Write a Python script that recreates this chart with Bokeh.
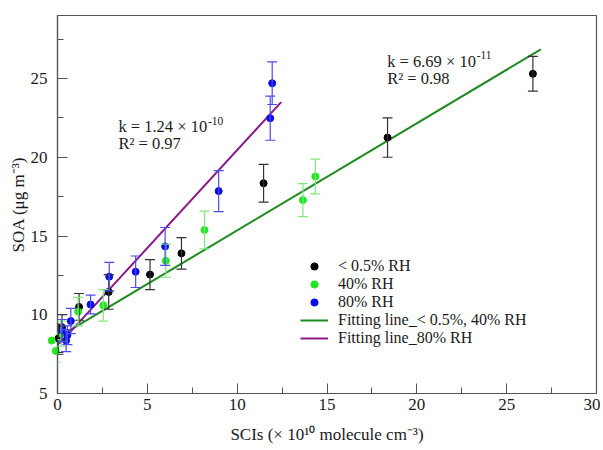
from bokeh.plotting import figure
from bokeh.models import (ColumnDataSource, Whisker, TeeHead, Legend, LegendItem,
                          SingleIntervalTicker, Range1d)
from bokeh.core.properties import value
from bokeh.embed import file_html
from bokeh.resources import INLINE

# ---- data ----
black_x = [0.05, 0.25, 1.2, 2.85, 5.15, 6.9, 11.47, 18.37, 26.46]
black_y = [8.5, 9.2, 10.5, 11.45, 12.55, 13.9, 18.35, 21.25, 25.3]
black_err = [0.9, 0.8, 0.85, 1.1, 0.95, 1.0, 1.2, 1.25, 1.1]

green_x = [-0.6, -0.32, -0.1, 0.2, 1.15, 2.55, 6.03, 8.18, 13.66, 14.35]
green_y = [8.0, 8.36, 7.7, 8.8, 10.2, 10.6, 13.43, 15.38, 17.28, 18.78]
green_err = [0.8, 0.9, 0.7, 0.8, 0.9, 1.0, 1.05, 1.2, 1.05, 1.1]

blue_x = [0.24, 0.48, 0.55, 0.74, 1.84, 2.88, 4.35, 5.99, 8.97, 11.84, 11.95]
blue_y = [9.0, 8.36, 8.7, 9.6, 10.65, 12.42, 12.73, 14.34, 17.85, 22.48, 24.7]
blue_err = [0.7, 0.7, 0.6, 0.8, 0.6, 0.9, 1.0, 1.2, 1.3, 1.4, 1.35]

fit_dry_x = [0.0, 26.9]
fit_dry_y = [8.55, 26.85]
fit_wet_x = [0.1, 12.45]
fit_wet_y = [8.15, 23.5]

series_labels = ["< 0.5% RH", "40% RH", "80% RH",
                 "Fitting line_< 0.5%, 40% RH", "Fitting line_80% RH"]

k_texts = ["k = 1.24 × 10", "k = 6.69 × 10"]
k_exps = ["-10", "-11"]
r2_texts = ["R² = 0.97", "R² = 0.98"]

FONT = "Liberation Serif"

p = figure(width=600, height=450, output_backend="svg", toolbar_location=None,
           x_range=Range1d(0, 30), y_range=Range1d(5, 29),
           min_border_left=57, min_border_right=4, min_border_top=15,
           min_border_bottom=57, background_fill_color="white",
           border_fill_color="white")
p.grid.visible = False
p.outline_line_color = "#555555"
p.outline_line_width = 1.2

for ax in (p.xaxis[0], p.yaxis[0]):
    ax.ticker = SingleIntervalTicker(interval=5, num_minor_ticks=2)
    ax.major_tick_in = 10
    ax.major_tick_out = 0
    ax.minor_tick_in = 6
    ax.minor_tick_out = 0
    ax.axis_line_color = "#555555"
    ax.axis_line_width = 1.2
    ax.major_tick_line_color = "#555555"
    ax.minor_tick_line_color = "#555555"
    ax.major_label_text_font = FONT
    ax.major_label_text_font_size = "17px"
    ax.major_label_text_color = "#1a1a1a"
    ax.axis_label_text_font = FONT
    ax.axis_label_text_font_size = "17px"
    ax.axis_label_text_font_style = "normal"
    ax.axis_label_text_color = "#1a1a1a"

p.xaxis.axis_label = "SCIs (× 10¹⁰ molecule cm⁻³)"
p.xaxis.major_label_standoff = 5
p.xaxis.axis_label_standoff = 12
p.yaxis.axis_label = "SOA (μg m⁻³)"
p.yaxis.major_label_standoff = 10
p.yaxis.axis_label_standoff = 0

# fit lines
l_dry = p.line(fit_dry_x, fit_dry_y, line_color="#1f8a1f", line_width=2)
l_wet = p.line(fit_wet_x, fit_wet_y, line_color="#8a1a8a", line_width=2)

def add_series(xs, ys, errs, dot_color, bar_color):
    src = ColumnDataSource(dict(x=xs, y=ys,
                                lo=[a - b for a, b in zip(ys, errs)],
                                hi=[a + b for a, b in zip(ys, errs)]))
    w = Whisker(base="x", lower="lo", upper="hi", source=src, dimension="height",
                line_color=bar_color, line_width=1.2, level="overlay",
                upper_head=TeeHead(size=10, line_color=bar_color, line_width=1.2),
                lower_head=TeeHead(size=10, line_color=bar_color, line_width=1.2))
    p.add_layout(w)
    r = p.scatter("x", "y", source=src, size=7, fill_color=dot_color,
                  line_color=dot_color, level="overlay")
    return r

r_black = add_series(black_x, black_y, black_err, "#000000", "#333333")
r_green = add_series(green_x, green_y, green_err, "#22e622", "#7ee87e")
r_blue = add_series(blue_x, blue_y, blue_err, "#0a0aee", "#4b4bee")

# annotations (slope and R²), superscript drawn as a separate smaller text
ann_x = [3.39, 18.35]
ann_y_k = [21.95, 26.1]
ann_y_r = [20.9, 25.0]
p.text(x=ann_x, y=ann_y_k, text=k_texts,
       text_font=value(FONT), text_font_size=value("16.5px"),
       text_color="#1a1a1a", text_baseline="alphabetic")
p.text(x=ann_x, y=ann_y_k, text=k_exps, x_offset=89.5, y_offset=-6,
       text_font=value(FONT), text_font_size=value("11.5px"),
       text_color="#1a1a1a", text_baseline="alphabetic")
p.text(x=ann_x, y=ann_y_r, text=r2_texts,
       text_font=value(FONT), text_font_size=value("16.5px"),
       text_color="#1a1a1a", text_baseline="alphabetic")

legend = Legend(items=[
    LegendItem(label=series_labels[0], renderers=[r_black]),
    LegendItem(label=series_labels[1], renderers=[r_green]),
    LegendItem(label=series_labels[2], renderers=[r_blue]),
    LegendItem(label=series_labels[3], renderers=[l_dry]),
    LegendItem(label=series_labels[4], renderers=[l_wet]),
], location=(243, 46))
legend.label_text_font = FONT
legend.label_text_font_size = "16px"
legend.label_text_color = "#1a1a1a"
legend.label_height = 18
legend.glyph_height = 18
legend.glyph_width = 28
legend.label_standoff = 10
legend.spacing = 0
legend.padding = 0
legend.margin = 0
legend.border_line_alpha = 0
legend.background_fill_alpha = 0
p.add_layout(legend)

open("out.html", "w").write(file_html(p, INLINE))
